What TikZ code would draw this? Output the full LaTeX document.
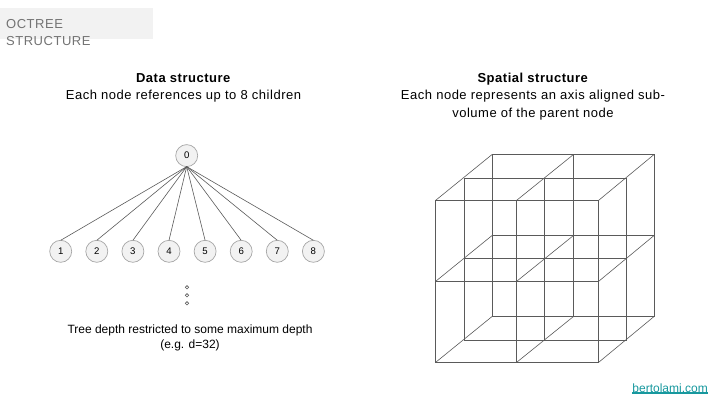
\documentclass[tikz,border=0pt]{standalone}
\usepackage{fontspec}
\setmainfont{Liberation Sans}
\newfontfamily\spacedfont[LetterSpace=4]{Liberation Sans}
\usepackage{xcolor}
\usetikzlibrary{positioning}
\definecolor{banner}{HTML}{F2F2F2}
\definecolor{wire}{HTML}{5A5A5A}
\definecolor{linkteal}{HTML}{17989E}

\begin{document}
\begin{tikzpicture}[
  x=1pt, y=-1pt,
  vertex/.style={draw=black!35, fill=banner, circle, inner sep=0pt, outer sep=0pt, minimum size=22pt, line width=0.7pt, font=\fontsize{9.6}{10}\selectfont},
  dot/.style={draw=wire, circle, inner sep=0pt, outer sep=0pt, minimum size=3.4pt, line width=0.6pt},
  edge/.style={draw=wire, line width=0.6pt},
  cube/.style={draw=wire, line width=1pt},
  caption/.style={align=center, inner sep=0pt, font=\spacedfont\fontsize{13}{17.2}\selectfont}
]
\useasboundingbox (0,0) rectangle (720,405);

\fill[banner] (0,8) rectangle (153,39);
\node[anchor=north west, align=left, inner sep=0pt, text=black!55, font=\spacedfont\fontsize{13}{17}\selectfont] (title) at (6,19.5) {OCTREE\\STRUCTURE};

\node[caption] (datacap) at (183.5,87.5) {\textbf{Data structure}\\Each node references up to 8 children};
\node[caption] (spatialcap) at (533,96.5) {\textbf{Spatial structure}\\Each node represents an axis aligned sub-\\volume of the parent node};

\node[vertex] (n0) at (186.7,155.6) {0};
\node[vertex] (n1) at (60.7,251.3) {1};
\node[vertex, right=14.1pt of n1] (n2) {2};
\node[vertex, right=14.1pt of n2] (n3) {3};
\node[vertex, right=14.1pt of n3] (n4) {4};
\node[vertex, right=14.1pt of n4] (n5) {5};
\node[vertex, right=14.1pt of n5] (n6) {6};
\node[vertex, right=14.1pt of n6] (n7) {7};
\node[vertex, right=14.1pt of n7] (n8) {8};

\draw[edge] (n0.south) -- (n1.north);
\draw[edge] (n0.south) -- (n2.north);
\draw[edge] (n0.south) -- (n3.north);
\draw[edge] (n0.south) -- (n4.north);
\draw[edge] (n0.south) -- (n5.north);
\draw[edge] (n0.south) -- (n6.north);
\draw[edge] (n0.south) -- (n7.north);
\draw[edge] (n0.south) -- (n8.north);

\node[dot] (d1) at (187,287.3) {};
\node[dot, below=4.6pt of d1] (d2) {};
\node[dot, below=4.6pt of d2] (d3) {};

\node[caption, font=\fontsize{12}{14.6}\selectfont] (depthcap) at (190,338) {Tree depth restricted to some maximum depth\\(e.g. d=32)};

% back layer
\draw[cube] (492.3,154.3) rectangle (654.3,316.3);
\draw[cube] (573.7,154.3) -- (573.7,316.3);
\draw[cube] (492.3,235.3) -- (654.3,235.3);
% middle layer
\draw[cube] (464.3,178) rectangle (626.3,340);
\draw[cube] (544.7,178) -- (544.7,340);
\draw[cube] (464.3,258) -- (626.3,258);
% front layer
\draw[cube] (435.7,200.3) rectangle (598.7,362.3);
\draw[cube] (516.7,200.3) -- (516.7,362.3);
\draw[cube] (435.7,281.3) -- (598.7,281.3);
% depth lines
\draw[edge] (435.7,200.3) -- (492.3,154.3);
\draw[edge] (516.7,200.3) -- (573.7,154.3);
\draw[edge] (598.7,200.3) -- (654.3,154.3);
\draw[edge] (435.7,281.3) -- (492.3,235.3);
\draw[edge] (516.7,281.3) -- (573.7,235.3);
\draw[edge] (598.7,281.3) -- (654.3,235.3);
\draw[edge] (435.7,362.3) -- (492.3,316.3);
\draw[edge] (516.7,362.3) -- (573.7,316.3);
\draw[edge] (598.7,362.3) -- (654.3,316.3);

\node[anchor=east, inner sep=0pt, text=linkteal, font=\fontsize{12}{14}\selectfont] (link) at (708,388) {bertolami.com};
\draw[linkteal, line width=1.1pt] ([yshift=-0.4pt]link.south west) -- ([yshift=-0.4pt]link.south east);
\end{tikzpicture}
\end{document}
